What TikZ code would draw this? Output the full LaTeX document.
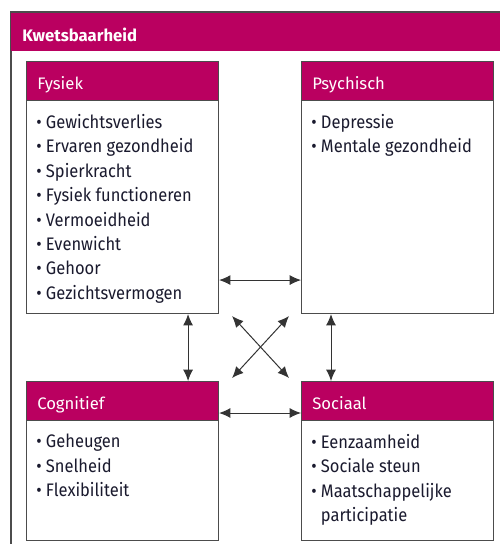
\documentclass[tikz,border=0pt]{standalone}
\usepackage{fontspec}
\setmainfont{Fira Sans}
\newfontfamily\itemfont[FakeStretch=0.91]{Fira Sans}
\usetikzlibrary{arrows.meta,positioning,calc}
\definecolor{mag}{HTML}{BA0060}
\definecolor{txt}{HTML}{1A1A2E}
\begin{document}
\begin{tikzpicture}[x=0.75pt,y=-0.75pt,
  frame/.style={draw=black!70,line width=0.8pt,fill=white,inner sep=0pt},
  hdr/.style={fill=mag,draw=black!70,line width=0.8pt,inner sep=0pt,anchor=north west},
  title/.style={text=white,font=\fontsize{12.5}{15}\selectfont,anchor=base west,inner sep=0pt},
  items/.style={text=txt,font=\itemfont\fontsize{13.6}{18.3}\selectfont,anchor=north west,align=left,inner sep=0pt},
  link/.style={draw=black!80,line width=0.75pt,{Latex[length=8.5pt,width=7.5pt]}-{Latex[length=8.5pt,width=7.5pt]}}]
\useasboundingbox (0,0) rectangle (500,544);
% outer frame
\draw[draw=black!70,line width=0.8pt] (11,560) -- (11,12) -- (520,12);
\fill[mag] (11,12) rectangle (520,51);
\draw[draw=black!70,line width=0.6pt] (11,12) -- (520,12);
\node[title,font=\bfseries\fontsize{12.5}{15}\selectfont] (kt) at (22,41) {Kwetsbaarheid};
% boxes
\newcommand{\mybox}[5]{%
  \node[frame,anchor=north west,minimum width=192*0.75pt,minimum height=#4*0.75pt] (#1) at (#2,#3) {};
  \node[hdr,minimum width=192*0.75pt,minimum height=39*0.75pt] (#1h) at (#2,#3) {};
  \node[title] (#1t) at ($(#2,#3)+(11,28)$) {#5};
}
\mybox{fys}{26}{61}{252}{Fysiek}
\mybox{psy}{301}{61}{252}{Psychisch}
\mybox{cog}{26}{381}{159}{Cognitief}
\mybox{soc}{301}{381}{159}{Sociaal}
\node[items] (fysi) at (36,114) {%
• Gewichtsverlies\\• Ervaren gezondheid\\• Spierkracht\\• Fysiek functioneren\\%
• Vermoeidheid\\• Evenwicht\\• Gehoor\\• Gezichtsvermogen};
\node[items] (psyi) at (311,114) {• Depressie\\• Mentale gezondheid};
\node[items] (cogi) at (36,434) {• Geheugen\\• Snelheid\\• Flexibiliteit};
\node[items] (soci) at (311,434) {• Eenzaamheid\\• Sociale steun\\• Maatschappelijke\\\phantom{• }participatie};
% connectors (from node to node)
\draw[link] ($(fys.south east)+(0,-34)$) -- ($(psy.south west)+(0,-34)$);
\draw[link] ($(cog.north east)+(0,32)$) -- ($(soc.north west)+(0,32)$);
\draw[link] ($(fys.south east)+(-31,0)$) -- ($(cog.north east)+(-31,0)$);
\draw[link] ($(psy.south west)+(30,0)$) -- ($(soc.north west)+(30,0)$);
\draw[link] ($(fys.south east)+(13,2)$) -- ($(soc.north west)+(-12,-3)$);
\draw[link] ($(psy.south west)+(-12,2)$) -- ($(cog.north east)+(13,-3)$);
\end{tikzpicture}
\end{document}
